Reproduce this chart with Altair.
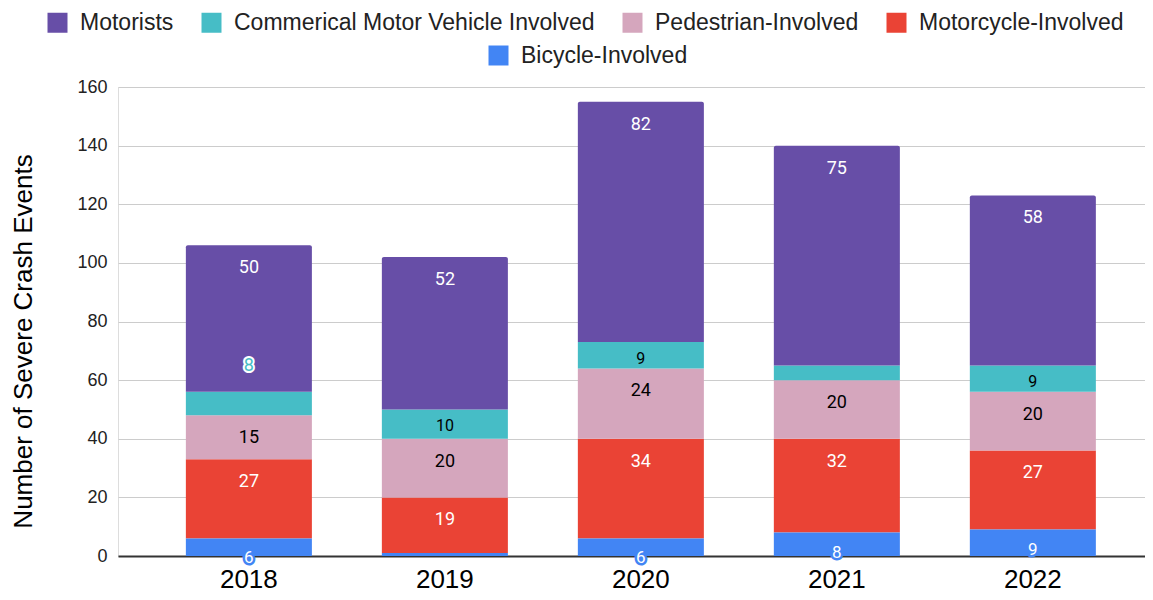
import altair as alt
import pandas as pd

years = ["2018", "2019", "2020", "2021", "2022"]
series_names = [
    "Bicycle-Involved",
    "Motorcycle-Involved",
    "Pedestrian-Involved",
    "Commerical Motor Vehicle Involved",
    "Motorists",
]
bicycle = [6, 1, 6, 8, 9]
motorcycle = [27, 19, 34, 32, 27]
pedestrian = [15, 20, 24, 20, 20]
cmv = [8, 10, 9, 5, 9]
motorists = [50, 52, 82, 75, 58]
series_values = [bicycle, motorcycle, pedestrian, cmv, motorists]

colors = {
    "Motorists": "#674ea7",
    "Commerical Motor Vehicle Involved": "#46bdc6",
    "Pedestrian-Involved": "#d5a6bd",
    "Motorcycle-Involved": "#ea4335",
    "Bicycle-Involved": "#4285f4",
}
legend_main = ["Motorists", "Commerical Motor Vehicle Involved", "Pedestrian-Involved", "Motorcycle-Involved"]

rows = []
for i, (name, vals) in enumerate(zip(series_names, series_values)):
    for yr, v in zip(years, vals):
        rows.append({"year": yr, "series": name, "value": v, "order": i})
df = pd.DataFrame(rows)

AX_FONT = "Liberation Sans"
LBL_FONT = "Roboto"

x_enc = alt.X(
    "year:N",
    sort=years,
    scale=alt.Scale(paddingInner=0.357, paddingOuter=0.2985, align=0.58),
    axis=alt.Axis(
        title=None, labelAngle=0, labelFont=AX_FONT, labelFontSize=26, labelColor="#000",
        labelPadding=10, ticks=False, domainColor="#333333", domainWidth=2, grid=False,
    ),
)
y_enc = alt.Y(
    "y1:Q",
    scale=alt.Scale(domain=[0, 160], nice=False),
    axis=alt.Axis(
        title="Number of Severe Crash Events", values=list(range(0, 161, 20)),
        labelFont=AX_FONT, labelFontSize=18, labelColor="#222", labelPadding=11,
        ticks=False, domain=False, gridColor="#cccccc", gridWidth=1,
        titleFont=AX_FONT, titleFontSize=26, titleFontWeight="normal", titleColor="#000",
        titlePadding=40, titleY=254,
    ),
)

base = alt.Chart(df).transform_stack(
    stack="value", groupby=["year"], as_=["y0", "y1"],
    sort=[alt.SortField("order", order="ascending")],
)

leg_common = dict(
    orient="none", direction="horizontal", title=None, symbolType="square", symbolSize=400,
    symbolStrokeWidth=0, labelFont=AX_FONT, labelFontSize=23, labelColor="#222",
    labelOffset=11, columnPadding=26, padding=0, labelLimit=600,
)

color_main = alt.Color(
    "series:N",
    scale=alt.Scale(domain=legend_main, range=[colors[s] for s in legend_main]),
    legend=alt.Legend(legendX=-72, legendY=-76, **leg_common),
)
color_bike = alt.Color(
    "series:N",
    scale=alt.Scale(domain=["Bicycle-Involved"], range=[colors["Bicycle-Involved"]]),
    legend=alt.Legend(legendX=369, legendY=-43, **leg_common),
)

bars_mid = base.transform_filter(
    alt.FieldOneOfPredicate(field="series", oneOf=["Motorcycle-Involved", "Pedestrian-Involved", "Commerical Motor Vehicle Involved"])
).mark_bar().encode(x=x_enc, y=y_enc, y2="y0:Q", color=color_main)

bars_top = base.transform_filter(alt.datum.series == "Motorists").mark_bar(
    cornerRadiusTopLeft=2, cornerRadiusTopRight=2
).encode(x=x_enc, y=y_enc, y2="y0:Q", color=color_main)

bars_main = alt.layer(bars_mid, bars_top)

bars_bike = base.transform_filter(alt.datum.series == "Bicycle-Involved").mark_bar().encode(
    x=x_enc, y=y_enc, y2="y0:Q", color=color_bike
)

shown = alt.datum.value > 5

txt_white = base.transform_filter(
    alt.FieldOneOfPredicate(field="series", oneOf=["Motorists", "Motorcycle-Involved"])
).mark_text(baseline="middle", dy=23, font=LBL_FONT, fontSize=18, color="#ffffff").encode(
    x=x_enc, y=y_enc, text="value:Q"
)
txt_ped = base.transform_filter(alt.datum.series == "Pedestrian-Involved").mark_text(
    baseline="middle", dy=23, font=LBL_FONT, fontSize=18, color="#000000"
).encode(x=x_enc, y=y_enc, text="value:Q")

cmv_base = base.transform_filter(alt.datum.series == "Commerical Motor Vehicle Involved").transform_filter(shown)
txt_cmv = cmv_base.transform_filter(alt.datum.year != "2018").mark_text(
    baseline="middle", dy=17, font=LBL_FONT, fontSize=16, color="#000000"
).encode(x=x_enc, y=y_enc, text="value:Q")
cmv_out = cmv_base.transform_filter(alt.datum.year == "2018")
txt_cmv_halo = cmv_out.mark_text(
    baseline="middle", dy=-26, font=LBL_FONT, fontSize=18, color="#ffffff",
    stroke="#ffffff", strokeWidth=4, strokeJoin="round",
).encode(x=x_enc, y=y_enc, text="value:Q")
txt_cmv_out = cmv_out.mark_text(
    baseline="middle", dy=-26, font=LBL_FONT, fontSize=18, color="#46bdc6"
).encode(x=x_enc, y=y_enc, text="value:Q")

bike_base = base.transform_filter(alt.datum.series == "Bicycle-Involved").transform_filter(shown)
txt_bike_halo = bike_base.mark_text(
    baseline="middle", dy=20, font=LBL_FONT, fontSize=17, color="#4285f4",
    stroke="#4285f4", strokeWidth=5, strokeJoin="round",
).encode(x=x_enc, y=y_enc, text="value:Q")
txt_bike = bike_base.mark_text(
    baseline="middle", dy=20, font=LBL_FONT, fontSize=17, color="#ffffff"
).encode(x=x_enc, y=y_enc, text="value:Q")

chart = alt.layer(
    bars_main, bars_bike, txt_white, txt_ped, txt_cmv, txt_cmv_halo, txt_cmv_out, txt_bike_halo, txt_bike
).resolve_scale(color="independent").properties(
    width=1027, height=469,
    padding={"left": 110, "top": 79, "right": 0, "bottom": 36},
    autosize=alt.AutoSizeParams(type="none"),
).configure_view(stroke=None).configure(background="#ffffff")

chart.save("out.html", embed_options={"renderer": "svg", "actions": False})
